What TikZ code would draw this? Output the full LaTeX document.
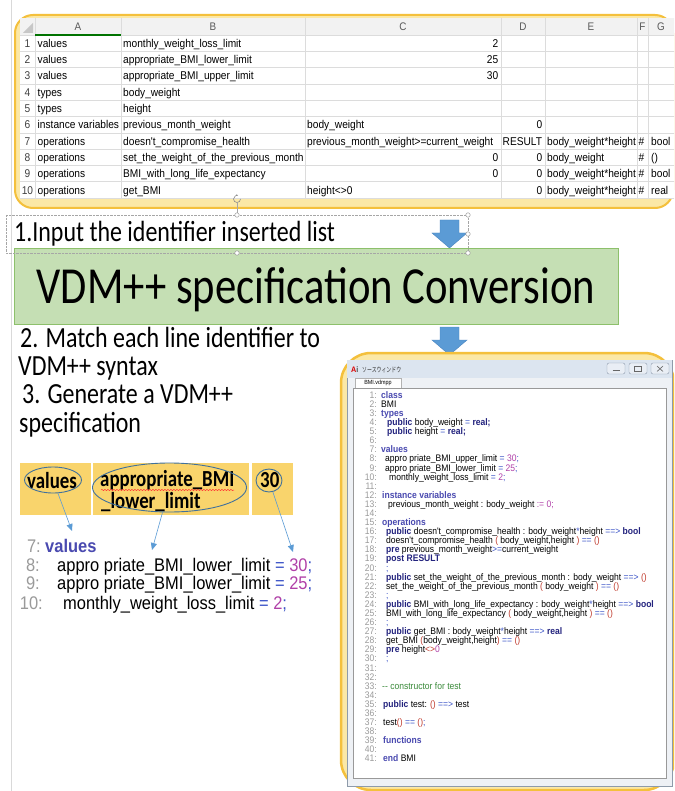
\documentclass[tikz,border=0pt]{standalone}
\usepackage{fontspec}
\setmainfont{Carlito}[FakeStretch=0.82]
\newfontfamily\cellfont{Liberation Sans}[FakeStretch=0.9]
\newfontfamily\codefont{Liberation Sans}[FakeStretch=0.9]
\newfontfamily\jpfont{Noto Sans CJK JP}[FakeStretch=0.7]
\usetikzlibrary{arrows.meta}
\usetikzlibrary{shapes.geometric,positioning,decorations.pathmorphing}

\definecolor{frameyel}{HTML}{F4C03C}
\definecolor{fillyel}{HTML}{FBE8A6}
\definecolor{cellyel}{HTML}{F9D46C}
\definecolor{boxgreen}{HTML}{C5DFB4}
\definecolor{boxedge}{HTML}{8DC06B}
\definecolor{arrowblue}{HTML}{5B9BD5}
\definecolor{arrowedge}{HTML}{4A85C0}
\definecolor{linkblue}{HTML}{5B9BD5}
\definecolor{ringblue}{HTML}{41719C}
\definecolor{gridgray}{HTML}{DCDCDC}
\definecolor{hdrgray}{HTML}{F2F2F2}
\definecolor{winbody}{HTML}{EEF1F5}
\definecolor{winedge}{HTML}{8E9BAA}
\definecolor{titlebar}{HTML}{DCE5F0}
\definecolor{btnfill}{HTML}{E9EEF5}
\definecolor{btnedge}{HTML}{8C9AAC}
\definecolor{vdmkw}{HTML}{4A4AB0}
\definecolor{vdmkey}{HTML}{23237E}
\definecolor{vdmop}{HTML}{3D55C8}
\definecolor{vdmnum}{HTML}{B040A8}
\definecolor{vdmpar}{HTML}{C0392B}
\definecolor{vdmcmt}{HTML}{3A8A3A}
\definecolor{lnumgray}{HTML}{9A9A9A}

\newcommand{\vkw}[1]{\textcolor{vdmkw}{\textbf{#1}}}
\newcommand{\vkey}[1]{\textcolor{vdmkey}{\textbf{#1}}}
\newcommand{\vop}[1]{\textcolor{vdmop}{#1}}
\newcommand{\vnum}[1]{\textcolor{vdmnum}{#1}}
\newcommand{\vpar}[1]{\textcolor{vdmpar}{#1}}
\newcommand{\vcmt}[1]{\textcolor{vdmcmt}{#1}}

\begin{document}
\catcode`\_=12
\begin{tikzpicture}[x=1pt,y=-1pt]
  \tikzset{yelframe/.style = {draw=frameyel,fill=fillyel,line width=2pt}}
  \tikzset{gridline/.style = {draw=gridgray,line width=0.5pt}}
  \tikzset{colhead/.style = {inner sep=0,text=black!65,font=\cellfont\fontsize{11}{12}\selectfont}}
  \tikzset{cell/.style = {anchor=base west,inner sep=0,font=\cellfont\fontsize{11.3}{12}\selectfont}}
  \tikzset{numcell/.style = {cell,anchor=base east}}
  \tikzset{stepnote/.style = {anchor=base west,inner sep=0,font=\fontsize{29.2}{30}\selectfont}}
  \tikzset{convbox/.style = {draw=boxedge,fill=boxgreen,line width=0.8pt,minimum width=604pt,minimum height=76pt,text height=33pt,text depth=0pt,inner sep=0,font=\fontsize{52}{56}\selectfont}}
  \tikzset{blockarrow/.style = {fill=arrowblue,draw=arrowedge,line width=0.4pt}}
  \tikzset{celltext/.style = {anchor=base west,inner sep=0,font=\bfseries\fontsize{23}{24}\selectfont}}
  \tikzset{ring/.style = {shape=ellipse,draw=ringblue,line width=0.9pt,inner sep=0}}
  \tikzset{link/.style = {draw=linkblue,line width=0.6pt,-{Triangle[length=7pt,width=6pt]}}}
  \tikzset{bigcode/.style = {anchor=base west,inner sep=0,font=\codefont\fontsize{18.3}{19}\selectfont}}
  \tikzset{bignum/.style = {bigcode,anchor=base east,text=lnumgray}}
  \tikzset{codeln/.style = {anchor=base west,inner sep=0,font=\codefont\fontsize{9.5}{9.5}\selectfont}}
  \tikzset{lnum/.style = {codeln,anchor=base east,text=lnumgray}}
  \tikzset{handle/.style = {shape=circle,draw=black!45,fill=white,line width=0.4pt,inner sep=0,minimum size=4.5pt}}
  \tikzset{selbox/.style = {draw=black!35,line width=0.4pt,densely dotted}}
  \tikzset{winbtn/.style = {draw=btnedge,fill=btnfill,rounded corners=2pt,minimum width=18pt,minimum height=11pt,inner sep=0}}

  \clip (0,0) rectangle (674,791);
  \fill[white] (0,0) rectangle (674,791);
  \draw[black!15,line width=0.5pt] (11,0) -- (11,791);

  % spreadsheet
  \draw[yelframe,rounded corners=18pt] (15,15) rectangle (673,208);
  \fill[white] (20,18) rectangle (680,198);
  \fill[hdrgray] (20,18) rectangle (680,35);
  \fill[black!22] (23,33) -- (33,33) -- (33,23) -- cycle;
  \foreach \k in {0,...,10}
    \draw[gridline] (20,35+\k*16.3) -- (680,35+\k*16.3);
  \foreach \cx in {35,121,305,501,545,637,648}
    \draw[gridline] (\cx,18) -- (\cx,198);
  \draw[draw=green!45!black,line width=1.2pt] (35,35) -- (121,35);
  \foreach \lt/\cx in {A/78,B/213,C/403,D/523,E/591,F/642.5,G/661}
    \node[colhead] (h\lt) at (\cx,26.5) {\lt};
  \foreach \r in {1,...,10}
    \node[cell,anchor=base,text=black!75] (r\r) at (27.5,31.05+16.3*\r) {\r};

  \foreach \r/\txt in {1/values,2/values,3/values,4/types,5/types,6/instance variables,7/operations,8/operations,9/operations,10/operations}
    \node[cell] (a\r) at (37.5,31.05+16.3*\r) {\txt};
  \begin{scope}
    \clip (121,35) rectangle (305,198);
    \foreach \r/\txt in {1/monthly_weight_loss_limit,2/appropriate_BMI_lower_limit,3/appropriate_BMI_upper_limit,4/body_weight,5/height,6/previous_month_weight,7/doesn't_compromise_health,8/set_the_weight_of_the_previous_month,9/BMI_with_long_life_expectancy,10/get_BMI}
      \node[cell] (b\r) at (123,31.05+16.3*\r) {\txt};
  \end{scope}
  \foreach \r/\txt in {6/body_weight,7/previous_month_weight>=current_weight,10/height<>0}
    \node[cell] (c\r) at (307,31.05+16.3*\r) {\txt};
  \foreach \r/\txt in {1/2,2/25,3/30,8/0,9/0}
    \node[numcell] (cn\r) at (498.5,31.05+16.3*\r) {\txt};
  \foreach \r in {6,8,9,10}
    \node[numcell] (dn\r) at (542.5,31.05+16.3*\r) {0};
  \node[cell] (d7) at (502.5,31.05+16.3*7) {RESULT};
  \foreach \r/\txt in {7/body_weight*height,8/body_weight,9/body_weight*height,10/body_weight*height}
    \node[cell] (e\r) at (547,31.05+16.3*\r) {\txt};
  \foreach \r in {7,...,10}
    \node[cell,anchor=base] (f\r) at (641.5,31.05+16.3*\r) {\#};
  \foreach \r/\txt in {7/bool,8/(),9/bool,10/real}
    \node[cell] (g\r) at (651,31.05+16.3*\r) {\txt};

  % conversion step
  \node[stepnote] (step1) at (14,242) {1.Input the identifier inserted list};
  \foreach \ay in {220,327}
    \draw[blockarrow] (440,\ay) -- (459,\ay) -- (459,\ay+13) -- (467,\ay+13) -- (449.5,\ay+28) -- (432,\ay+13) -- (440,\ay+13) -- cycle;
  \node[convbox] (conv) at (316,286.5) {VDM++ specification Conversion};

  \draw[black!35,line width=0.4pt] (237,203) -- (237,215);
  \draw[black!45,line width=0.6pt,-{Stealth[length=2.2pt]}] (240.5,199) arc[start angle=0,end angle=290,radius=3.5];
  \draw[selbox] (6,215) rectangle (468,253);
  \foreach \hx/\hy/\nm in {237/215/hd1,468/215/hd2,468/234/hd3,237/253/hd4,468/253/hd5}
    \node[handle] (\nm) at (\hx,\hy) {};

  \node[stepnote] (step2a) at (20,347) {2. Match each line identifier to};
  \node[stepnote] (step2b) at (18,375) {VDM++ syntax};
  \node[stepnote] (step3a) at (22,403) {3. Generate a VDM++};
  \node[stepnote] (step3b) at (19,432) {specification};

  % identifier cells
  \fill[cellyel] (20,463) rectangle (91,515);
  \fill[cellyel] (93,463) rectangle (249,515);
  \fill[cellyel] (252,463) rectangle (293,515);
  \node[celltext] (idv) at (27,488) {values};
  \node[celltext] (idb) at (100,486.5) {appropriate_BMI};
  \node[celltext] (idl) at (101,508.5) {_lower_limit};
  \node[celltext] (idn) at (260,487) {30};
  \draw[red!80,line width=0.5pt,decorate,decoration={snake,amplitude=0.6pt,segment length=3pt}] (101,490) -- (234,490);
  \node[ring,minimum width=57pt,minimum height=26pt] (ringv) at (53,480) {};
  \node[ring,minimum width=154pt,minimum height=49pt] (ringb) at (169.5,487.5) {};
  \node[ring,minimum width=26pt,minimum height=23pt] (ringn) at (269,480.5) {};

  \node[bignum] (bn7) at (41,552) {7:};
  \node[bigcode] (bl7) at (45,552) {\vkw{values}};
  \node[bignum] (bn8) at (40,571) {8:};
  \node[bigcode] (bl8) at (57,571) {appro priate_BMI_lower_limit \vop{=} \vnum{30}\vop{;}};
  \node[bignum] (bn9) at (40,589) {9:};
  \node[bigcode] (bl9) at (57,589) {appro priate_BMI_lower_limit \vop{=} \vnum{25}\vop{;}};
  \node[bignum] (bn10) at (43,609) {10:};
  \node[bigcode] (bl10) at (63,609) {monthly_weight_loss_limit \vop{=} \vnum{2}\vop{;}};

  \coordinate (tipv) at (72,531);
  \coordinate (tipb) at (152,550);
  \coordinate (tipn) at (293,552);
  \foreach \from/\to in {ringv/tipv, ringb/tipb, ringn/tipn}
    \draw[link] (\from) -- (\to);

  % source window
  \draw[yelframe,line width=2.5pt,rounded corners=30pt] (341,353) rectangle (674,790);
  \draw[fill=winbody,draw=winedge,line width=0.6pt] (347,360) rectangle (672,786);
  \fill[titlebar] (347.3,360.3) rectangle (671.7,378);
  \node[anchor=base west,inner sep=0,font=\codefont\bfseries\fontsize{8}{8}\selectfont] (icon) at (351,372) {\textcolor{red!85!black}{A}\textcolor{black!70}{i}};
  \node[anchor=base west,inner sep=0,font=\jpfont\fontsize{7}{8}\selectfont,text=black!80] (wtitle) at (362,372) {ソースウィンドウ};
  \foreach \bx/\nm in {616/bmin,638/bmax,660/bcls}
    \node[winbtn] (\nm) at (\bx,368.5) {};
  \draw[black!60,line width=0.6pt] (612.5,370.5) -- (619.5,370.5);
  \draw[black!60,line width=0.5pt] (634.5,366) rectangle (641.5,371.5);
  \draw[black!60,line width=0.6pt] (657,366) -- (663,371.5) (657,371.5) -- (663,366);
  \node[draw=black!30,fill=white,inner sep=0,minimum width=46pt,minimum height=10pt,font=\codefont\fontsize{6}{7}\selectfont] (tab) at (378,383) {BMI.vdmpp};
  \draw[fill=white,draw=black!40,line width=0.5pt] (353,388) rectangle (666,778);

  \foreach \n/\dx/\txt in {
    1/0/{\vkw{class}},
    2/0/BMI,
    3/0/{\vkw{types}},
    4/6/{\vkey{public} body_weight \vop{=} \vkey{real;}},
    5/6/{\vkey{public} height \vop{=} \vkey{real;}},
    6/0/{},
    7/0/{\vkw{values}},
    8/4/{appro priate_BMI_upper_limit \vop{=} \vnum{30}\vop{;}},
    9/4/{appro priate_BMI_lower_limit \vop{=} \vnum{25}\vop{;}},
    10/8/{monthly_weight_loss_limit \vop{=} \vnum{2}\vop{;}},
    11/0/{},
    12/1/{\vkw{instance variables}},
    13/7/{previous_month_weight : body_weight \vnum{:= 0;}},
    14/0/{},
    15/1/{\vkw{operations}},
    16/5/{\vkey{public} doesn't_compromise_health : body_weight\vop{*}height \vop{==>} \vkey{bool}},
    17/5/{doesn't_compromise_health \vpar{(} body_weight,height \vpar{)} \vop{==} \vpar{()}},
    18/5/{\vkey{pre} previous_month_weight\vop{>=}current_weight},
    19/5/{\vkey{post RESULT}},
    20/5/{\vop{;}},
    21/5/{\vkey{public} set_the_weight_of_the_previous_month : body_weight \vop{==>} \vpar{()}},
    22/5/{set_the_weight_of_the_previous_month \vpar{(} body_weight \vpar{)} \vop{==} \vpar{()}},
    23/5/{\vop{;}},
    24/5/{\vkey{public} BMI_with_long_life_expectancy : body_weight\vop{*}height \vop{==>} \vkey{bool}},
    25/5/{BMI_with_long_life_expectancy \vpar{(} body_weight,height \vpar{)} \vop{==} \vpar{()}},
    26/5/{\vop{;}},
    27/5/{\vkey{public} get_BMI : body_weight\vop{*}height \vop{==>} \vkey{real}},
    28/5/{get_BMI \vpar{(}body_weight,height\vpar{)} \vop{==} \vpar{()}},
    29/5/{\vkey{pre} height\vpar{<>}\vnum{0}},
    30/5/{\vop{;}},
    31/0/{},
    32/0/{},
    33/1/{\vcmt{-{}- constructor for test}},
    34/0/{},
    35/2/{\vkey{public} test: \vpar{()} \vop{==>} test},
    36/0/{},
    37/2/{test\vpar{()} \vop{==} \vpar{()}\vop{;}},
    38/0/{},
    39/2/{\vkw{functions}},
    40/0/{},
    41/2/{\vkw{end} BMI}}
  {
    \node[lnum] (ln\n) at (377,{398.3+(\n-1)*9.09}) {\n:};
    \node[codeln] (cl\n) at ({381+\dx},{398.3+(\n-1)*9.09}) {\txt};
  }
\end{tikzpicture}
\end{document}
